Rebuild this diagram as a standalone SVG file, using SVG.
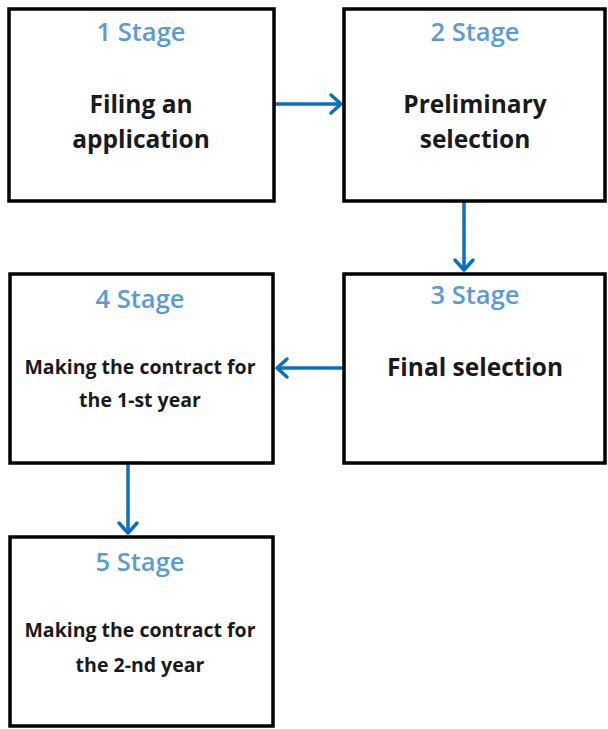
<svg xmlns="http://www.w3.org/2000/svg" width="608" height="729" viewBox="0 0 608 729">
<defs>
<style>
.box{fill:#fff;stroke:#000;stroke-width:3.5}
.st{font-family:"Open Sans","Liberation Sans",sans-serif;font-weight:600;font-size:25.5px;fill:#5b9bd5;text-anchor:middle}
.big{font-family:"Open Sans","Liberation Sans",sans-serif;font-weight:700;font-size:24.5px;fill:#1a1a1a;text-anchor:middle}
.sm{font-family:"Open Sans","Liberation Sans",sans-serif;font-weight:700;font-size:19.5px;fill:#1a1a1a;text-anchor:middle}
.conn{stroke:#0a70c0;stroke-width:3.5;fill:none}
.head{stroke:#0a70c0;stroke-width:3.5;fill:none;stroke-linecap:round;stroke-linejoin:round}
</style>
</defs>
<rect width="608" height="729" fill="#fff"/>
<g id="connectors">
<line class="conn" x1="274" y1="104" x2="341" y2="104"/>
<polyline class="head" points="331,95 341,104 331,113"/>
<line class="conn" x1="464" y1="201" x2="464" y2="270"/>
<polyline class="head" points="455,260 464,270 473,260"/>
<line class="conn" x1="343" y1="368" x2="277" y2="368"/>
<polyline class="head" points="287,359 277,368 287,377"/>
<line class="conn" x1="128" y1="463" x2="128" y2="533"/>
<polyline class="head" points="119,523 128,533 137,523"/>
</g>
<g id="stage1">
<rect class="box" x="9" y="9" width="265" height="192"/>
<text class="st" x="141" y="41">1 Stage</text>
<text class="big" x="141" y="113">Filing an</text>
<text class="big" x="141" y="148">application</text>
</g>
<g id="stage2">
<rect class="box" x="344" y="9" width="261" height="192"/>
<text class="st" x="475" y="41">2 Stage</text>
<text class="big" x="475" y="113">Preliminary</text>
<text class="big" x="475" y="148">selection</text>
</g>
<g id="stage3">
<rect class="box" x="344" y="274" width="261" height="189"/>
<text class="st" x="475" y="304">3 Stage</text>
<text class="big" x="475" y="376">Final selection</text>
</g>
<g id="stage4">
<rect class="box" x="10" y="274" width="263" height="189"/>
<text class="st" x="140" y="308">4 Stage</text>
<text class="sm" x="140" y="374">Making the contract for</text>
<text class="sm" x="140" y="407">the 1-st year</text>
</g>
<g id="stage5">
<rect class="box" x="10" y="537" width="263" height="189"/>
<text class="st" x="140" y="571">5 Stage</text>
<text class="sm" x="140" y="637">Making the contract for</text>
<text class="sm" x="140" y="672">the 2-nd year</text>
</g>
</svg>
